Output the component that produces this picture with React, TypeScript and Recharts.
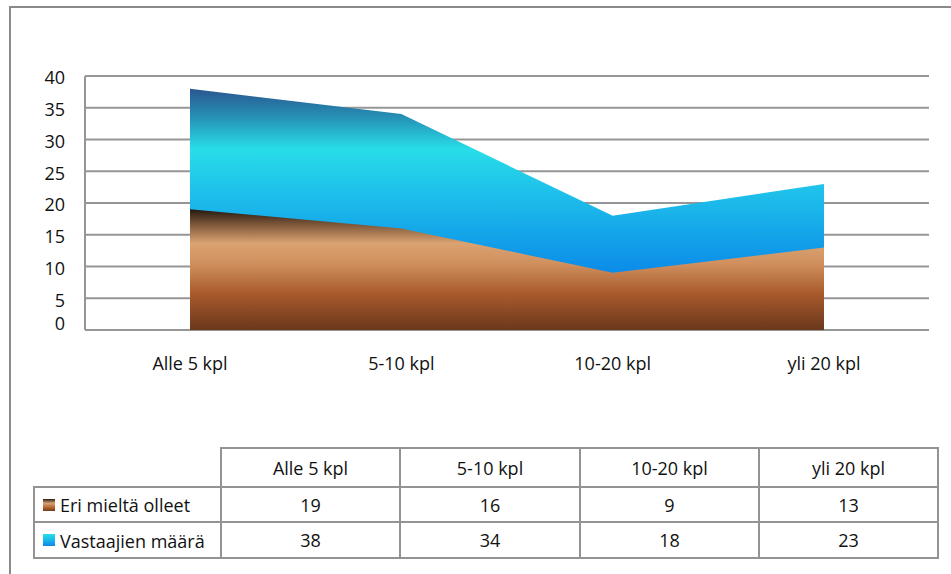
import React from 'react';
import { AreaChart, Area, XAxis, YAxis, CartesianGrid } from 'recharts';

const categories = ['Alle 5 kpl', '5-10 kpl', '10-20 kpl', 'yli 20 kpl'];
const eriMieltaOlleet = [19, 16, 9, 13];
const vastaajienMaara = [38, 34, 18, 23];
const seriesNames = ['Eri mieltä olleet', 'Vastaajien määrä'];
const yTicks = [0, 5, 10, 15, 20, 25, 30, 35, 40];

const data = categories.map((c, i) => ({
  name: c,
  eri: eriMieltaOlleet[i],
  vast: vastaajienMaara[i],
}));

const FONT = '"Open Sans", "Noto Sans", sans-serif';
const GRID = '#969696';
const TABLE_BORDER = '2px solid #939393';

const colW = [187, 179, 180, 179, 179];
const rowH = [39, 35, 36];

const YTick = (props: any) => {
  const { x, y, payload } = props;
  const shift = payload.value === 0 ? -6 : 2;
  return (
    <text x={x} y={y + shift} dy="0.36em" textAnchor="end" fontSize={18} fontFamily={FONT} fill="#111">
      {payload.value}
    </text>
  );
};

const brownSwatch = 'linear-gradient(to bottom, #2a1c12 0%, #d9a274 35%, #b5662f 70%, #6e3a1e 100%)';
const blueSwatch = 'linear-gradient(to bottom, #27dde8 0%, #1ab8ea 50%, #0a86e6 100%)';

export default function App() {
  const seriesRows = [
    { name: seriesNames[0], values: eriMieltaOlleet, swatch: brownSwatch },
    { name: seriesNames[1], values: vastaajienMaara, swatch: blueSwatch },
  ];
  const cellStyle: React.CSSProperties = {
    border: TABLE_BORDER,
    textAlign: 'center',
    padding: 0,
    color: '#111',
  };
  return (
    <div style={{ position: 'absolute', left: 0, top: 0, width: 951, height: 574, overflow: 'hidden', background: '#fff', fontFamily: FONT }}>
      <div style={{ position: 'absolute', left: 9, top: 6, width: 1000, height: 700, border: '2px solid #8a8a8a' }} />
      <div style={{ position: 'absolute', left: 0, top: 0 }}>
        <AreaChart width={951} height={400} data={data} margin={{ top: 76, right: 22, bottom: 0, left: 0 }}>
          <defs>
            <linearGradient id="blueGrad" x1="0" y1="0" x2="0" y2="1">
              <stop offset="0%" stopColor="#2b5690" />
              <stop offset="12%" stopColor="#2592b6" />
              <stop offset="25%" stopColor="#28dde8" />
              <stop offset="45%" stopColor="#1dbdea" />
              <stop offset="75%" stopColor="#0c8de8" />
              <stop offset="100%" stopColor="#0a80e0" />
            </linearGradient>
            <linearGradient id="brownGrad" x1="0" y1="0" x2="0" y2="1">
              <stop offset="0%" stopColor="#231810" />
              <stop offset="12%" stopColor="#7a5538" />
              <stop offset="28%" stopColor="#daa272" />
              <stop offset="45%" stopColor="#d0905e" />
              <stop offset="70%" stopColor="#a95a2c" />
              <stop offset="100%" stopColor="#6a381c" />
            </linearGradient>
          </defs>
          <CartesianGrid vertical={false} stroke={GRID} strokeWidth={2} />
          <XAxis
            dataKey="name"
            padding={{ left: 105, right: 105 }}
            axisLine={false}
            tickLine={false}
            tickSize={0}
            tickMargin={27}
            height={70}
            interval={0}
            tick={{ fontSize: 18, fill: '#111', fontFamily: FONT }}
          />
          <YAxis
            domain={[0, 40]}
            ticks={yTicks}
            width={85}
            axisLine={{ stroke: GRID, strokeWidth: 2 }}
            tickLine={false}
            tickSize={0}
            tickMargin={20}
            tick={<YTick />}
          />
          <Area
            type="linear"
            dataKey="vast"
            name={seriesNames[1]}
            stroke="none"
            fill="url(#blueGrad)"
            fillOpacity={1}
            isAnimationActive={false}
          />
          <Area
            type="linear"
            dataKey="eri"
            name={seriesNames[0]}
            stroke="none"
            fill="url(#brownGrad)"
            fillOpacity={1}
            isAnimationActive={false}
          />
        </AreaChart>
      </div>
      <table
        style={{
          position: 'absolute',
          left: 33,
          top: 447,
          borderCollapse: 'collapse',
          tableLayout: 'fixed',
          width: colW.reduce((a, b) => a + b, 0),
          fontFamily: FONT,
          fontSize: 18,
        }}
      >
        <colgroup>
          {colW.map((w, i) => (
            <col key={i} style={{ width: w }} />
          ))}
        </colgroup>
        <tbody>
          <tr style={{ height: rowH[0] }}>
            <td style={{ border: 'none', borderRight: TABLE_BORDER, borderBottom: TABLE_BORDER, padding: 0 }} />
            {categories.map((c) => (
              <td key={c} style={cellStyle}>
                {c}
              </td>
            ))}
          </tr>
          {seriesRows.map((r, ri) => (
            <tr key={r.name} style={{ height: rowH[ri + 1] }}>
              <td style={{ ...cellStyle, textAlign: 'left', paddingLeft: 8, whiteSpace: 'nowrap' }}>
                <span
                  style={{
                    display: 'inline-block',
                    width: 12,
                    height: 12,
                    background: r.swatch,
                    marginRight: 5,
                    verticalAlign: 'middle',
                    position: 'relative',
                    top: -1,
                  }}
                />
                <span style={{ verticalAlign: 'middle' }}>{r.name}</span>
              </td>
              {r.values.map((v, i) => (
                <td key={i} style={cellStyle}>
                  {v}
                </td>
              ))}
            </tr>
          ))}
        </tbody>
      </table>
    </div>
  );
}
